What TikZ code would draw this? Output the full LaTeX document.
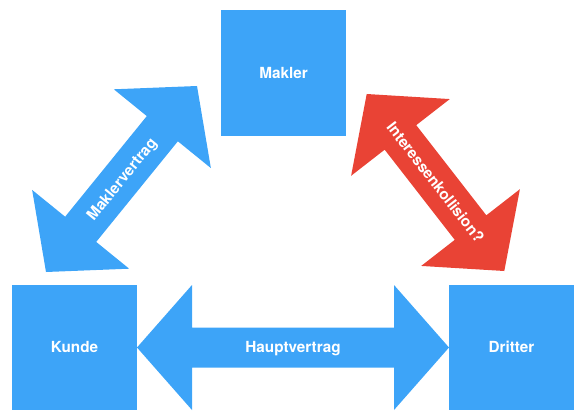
\documentclass[tikz,border=0pt]{standalone}
\usepackage{fontspec}
\setmainfont{TeX Gyre Heros}
\usetikzlibrary{calc}
\definecolor{mblue}{HTML}{3DA4F8}
\definecolor{mred}{HTML}{E94335}
\begin{document}
\begin{tikzpicture}[x=1pt,y=-1pt,
  lblfont/.style={font=\bfseries\fontsize{15.3}{17}\selectfont},
  box/.style={fill=mblue, minimum width=125pt, minimum height=125pt, inner sep=0pt,
    text=white, lblfont, text height=10.9pt, text depth=0pt},
  lbl/.style={text=white, lblfont, inner sep=0pt, text height=10.9pt, text depth=0pt},
  pics/fatarrow/.style 2 args={code={
    \fill[#2] (-#1/2,0) -- (-#1/2+55,62.5) -- (-#1/2+55,20) -- (#1/2-55,20)
      -- (#1/2-55,62.5) -- (#1/2,0) -- (#1/2-55,-62.5) -- (#1/2-55,-20)
      -- (-#1/2+55,-20) -- (-#1/2+55,-62.5) -- cycle;}}]
\useasboundingbox (0,0) rectangle (584,420);
% boxes
\node[box] (makler) at (283.5,73) {Makler};
\node[box] (kunde) at (74.5,347.5) {Kunde};
\node[box] (dritter) at (511.5,347.5) {Dritter};
% Hauptvertrag
\coordinate (hmid) at ($(kunde.east)!0.5!(dritter.west)$);
\pic at (hmid) {fatarrow={312}{mblue}};
\node[lbl] (haupt) at (hmid) {Hauptvertrag};
% Maklervertrag
\coordinate (mvA) at (46,272);
\coordinate (mvB) at (197,86);
\coordinate (mvmid) at ($(mvA)!0.5!(mvB)$);
\pic[rotate=50.93] at (mvmid) {fatarrow={239.6}{mblue}};
\node[lbl, rotate=50.93] (mv) at (mvmid) {Maklervertrag};
% Interessenkollision
\coordinate (ikA) at (366.7,94);
\coordinate (ikB) at (504.3,271);
\coordinate (ikmid) at ($(ikA)!0.5!(ikB)$);
\pic[rotate=-52.14] at (ikmid) {fatarrow={224.2}{mred}};
\node[lbl, rotate=-52.14] (ik) at (ikmid) {Interessenkollision?};
\end{tikzpicture}
\end{document}
